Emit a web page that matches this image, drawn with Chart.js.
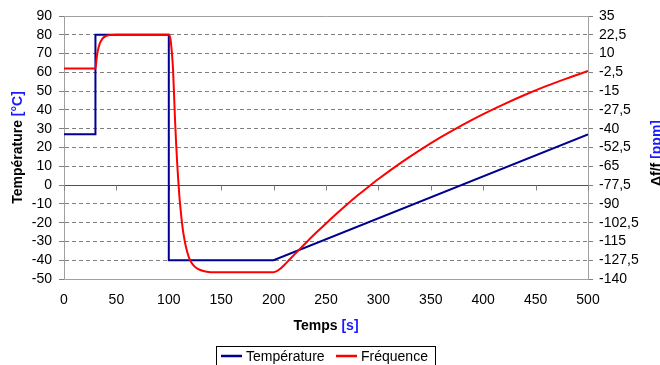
<!DOCTYPE html>
<html>
<head>
<meta charset="utf-8">
<script src="https://cdn.jsdelivr.net/npm/chart.js@4.4.0/dist/chart.umd.min.js"></script>
<style>
  html, body { margin: 0; padding: 0; background: #fff; }
</style>
</head>
<body>
<canvas id="chart" width="660" height="365"></canvas>
<script>
// Temperature profile (left axis, °C)
const tempTimes = [0, 30, 30, 100, 100, 200, 500];
const tempValues = [27, 27, 80, 80, -40, -40, 27];

// Frequency deviation (right axis, ppm)
const freqTimes = [0, 30, 31, 32, 33, 34, 35, 37, 40, 45, 50, 100, 101, 102, 103, 104, 105, 106, 107, 108, 109, 110, 111, 112, 113, 114, 116, 118, 120, 123, 126, 130, 135, 140, 200, 203, 206, 210, 215, 220, 230, 240, 250, 260, 270, 280, 290, 300, 320, 340, 360, 380, 400, 420, 440, 460, 480, 500];
const freqValues = [0, 0, 6, 11, 14, 16.5, 18, 20.2, 21.7, 22.4, 22.5, 22.5, 21.5, 17.5, 10, 0, -17, -35, -50, -63, -74, -84, -92, -99, -105, -110, -117.5, -123, -127, -130.5, -132.5, -134, -135, -135.5, -135.5, -134.8, -133.4, -130.8, -127.2, -123.6, -116.5, -109.6, -103, -96.6, -90.4, -84.5, -78.9, -73.5, -63.4, -54.1, -45.5, -37.6, -30.3, -23.6, -17.4, -11.7, -6.5, -1.6];

const xTicks = { min: 0, max: 500, step: 50 };
const leftTicks = { min: -50, max: 90, step: 10 };
const rightTicks = { min: -140, max: 35, step: 12.5 };

const FONT = 'Liberation Sans, Arial, sans-serif';

function toPoints(xs, ys) {
    return xs.map((x, i) => ({ x: x, y: ys[i] }));
}

function isEdge(v) {
    return v === 0 || v === leftTicks.min || v === leftTicks.max;
}

// two-colour text (black label + blue unit)
function drawTitle(ctx, cx, cy, angle, label, unit) {
    ctx.save();
    ctx.translate(cx, cy);
    ctx.rotate(angle);
    ctx.font = 'bold 14px ' + FONT;
    ctx.textBaseline = 'middle';
    const w1 = ctx.measureText(label).width;
    const w2 = ctx.measureText(unit).width;
    const x0 = -(w1 + w2) / 2;
    ctx.fillStyle = '#000';
    ctx.fillText(label, x0, 0);
    ctx.fillStyle = '#1a1aff';
    ctx.fillText(unit, x0 + w1, 0);
    ctx.restore();
}

const decorations = {
    id: 'decorations',
    beforeDatasetsDraw(chart) {
        const ctx = chart.ctx;
        const xs = chart.scales.x;
        const y0 = Math.round(chart.scales.y.getPixelForValue(0)) + 0.5;
        ctx.save();
        ctx.strokeStyle = '#808080';
        ctx.lineWidth = 1;
        xs.ticks.forEach(t => {
            const px = Math.round(xs.getPixelForValue(t.value)) + 0.5;
            ctx.beginPath();
            ctx.moveTo(px, y0);
            ctx.lineTo(px, y0 + 5);
            ctx.stroke();
        });
        ctx.restore();
    },
    afterDraw(chart) {
        const ctx = chart.ctx;
        const area = chart.chartArea;
        drawTitle(ctx, 18, (area.top + area.bottom) / 2, -Math.PI / 2, 'Température ', '[°C]');
        drawTitle(ctx, 657, 153, -Math.PI / 2, 'Δf/f ', '[ppm]');
        drawTitle(ctx, (area.left + area.right) / 2, 326, 0, 'Temps ', '[s]');

        // legend
        ctx.save();
        ctx.strokeStyle = '#000';
        ctx.lineWidth = 1;
        ctx.strokeRect(216.5, 346.5, 219, 30);
        ctx.font = '14px ' + FONT;
        ctx.textBaseline = 'alphabetic';
        const items = [{ x: 221, tx: 246 }, { x: 336, tx: 361 }];
        chart.data.datasets.forEach((ds, i) => {
            const it = items[i];
            ctx.strokeStyle = ds.borderColor;
            ctx.lineWidth = 2.5;
            ctx.beginPath();
            ctx.moveTo(it.x, 356);
            ctx.lineTo(it.x + 21, 356);
            ctx.stroke();
            ctx.fillStyle = '#000';
            ctx.fillText(ds.label, it.tx, 361);
        });
        ctx.restore();
    }
};

new Chart(document.getElementById('chart'), {
    type: 'line',
    data: {
        datasets: [{
            label: 'Température',
            data: toPoints(tempTimes, tempValues),
            borderColor: '#000090',
            borderWidth: 2,
            pointRadius: 0,
            tension: 0,
            yAxisID: 'y',
            order: 1
        }, {
            label: 'Fréquence',
            data: toPoints(freqTimes, freqValues),
            borderColor: '#ff0000',
            borderWidth: 2,
            pointRadius: 0,
            cubicInterpolationMode: 'monotone',
            yAxisID: 'y2',
            order: 0
        }]
    },
    options: {
        responsive: false,
        animation: false,
        devicePixelRatio: 1,
        layout: { padding: { top: 16, left: 0, right: 0, bottom: 0 } },
        plugins: {
            legend: { display: false },
            tooltip: { enabled: false }
        },
        scales: {
            x: {
                type: 'linear',
                min: xTicks.min,
                max: xTicks.max,
                ticks: { stepSize: xTicks.step, autoSkip: false, padding: 13, color: '#000', font: { family: FONT, size: 14 }, maxRotation: 0 },
                grid: { drawOnChartArea: false, drawTicks: false },
                border: { color: '#a0a0a0' },
                afterFit: s => { s.height = 86; }
            },
            y: {
                position: 'left',
                min: leftTicks.min,
                max: leftTicks.max,
                ticks: { stepSize: leftTicks.step, autoSkip: false, maxTicksLimit: 30, padding: 7, color: '#000', font: { family: FONT, size: 14 } },
                grid: {
                    color: c => (c.tick && c.tick.value === 0) ? '#505050' : (c.tick && isEdge(c.tick.value) ? '#a0a0a0' : '#808080'),
                    tickLength: 5,
                    tickColor: '#808080'
                },
                border: {
                    color: '#a0a0a0',
                    dash: c => (c.tick && !isEdge(c.tick.value)) ? [4, 3] : []
                },
                afterFit: s => { s.width = 64; }
            },
            y2: {
                position: 'right',
                min: rightTicks.min,
                max: rightTicks.max,
                ticks: {
                    stepSize: rightTicks.step,
                    autoSkip: false,
                    maxTicksLimit: 30,
                    padding: 6,
                    color: '#000',
                    font: { family: FONT, size: 14 },
                    callback: v => String(v).replace('.', ',')
                },
                grid: { drawOnChartArea: false, tickLength: 5, tickColor: '#808080' },
                border: { color: '#a0a0a0' },
                afterFit: s => { s.width = 72; }
            }
        }
    },
    plugins: [decorations]
});
</script>
</body>
</html>
